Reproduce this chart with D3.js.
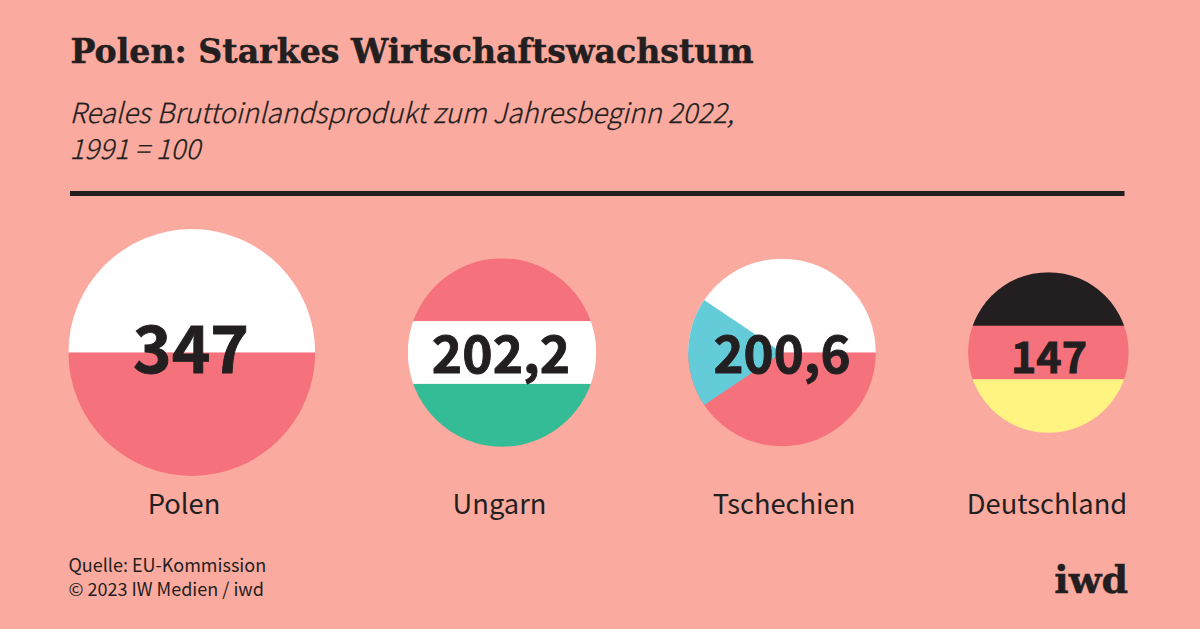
<!DOCTYPE html>
<html>
<head>
<meta charset="utf-8">
<script src="https://cdn.jsdelivr.net/npm/d3@7"></script>
<style>
  html, body { margin: 0; padding: 0; background: #fbaa9f; }
  svg { display: block; }
  text { fill: #231f20; }
  .sans { font-family: "Noto Sans CJK SC", "Noto Sans", sans-serif; }
  .slab { font-family: "DejaVu Serif", serif; font-weight: 700; stroke: #231f20; stroke-width: 0.5px; }
  .zahl { stroke: #231f20; stroke-width: 0.9px; }
  .untertitel { stroke: #231f20; stroke-width: 0.25px; }
</style>
</head>
<body>
<div id="chart"></div>
<script>
// data
var laender = ["Polen", "Ungarn", "Tschechien", "Deutschland"];
var werte = [347, 202.2, 200.6, 147];
var wertLabels = ["347", "202,2", "200,6", "147"];
var streifen = [
  ["weiss", "rot"],
  ["rot", "weiss", "gruen"],
  ["weiss", "rot"],
  ["schwarz", "rot", "gelb"]
];
var keil = [null, null, "blau", null];
var keilWinkel = 68; // degrees, wedge of the czech flag
var titel = "Polen: Starkes Wirtschaftswachstum";
var untertitel = ["Reales Bruttoinlandsprodukt zum Jahresbeginn 2022,", "1991 = 100"];
var quelle = ["Quelle: EU-Kommission", "© 2023 IW Medien / iwd"];

var width = 1200, height = 629;
var cy = 352.5;
var centerX = [191.8, 502, 782, 1048.4];
var numberX = [191, 501, 782, 1049];
var labelX = [184, 499.5, 784, 1047];
var numberSize = [65.5, 51.5, 51, 43];
var numberBase = 372.6;

var farbe = d3.scaleOrdinal()
  .domain(["weiss", "rot", "gruen", "schwarz", "gelb", "blau"])
  .range(["#ffffff", "#f5717c", "#34bc96", "#231f20", "#fff482", "#64cbd9"]);

// area proportional to the value
var radius = d3.scaleSqrt().domain([0, 347]).range([0, 123.4]);

var svg = d3.select("#chart").append("svg")
  .attr("width", width)
  .attr("height", height);

svg.append("rect")
  .attr("width", width)
  .attr("height", height)
  .attr("fill", "#fbaa9f");

svg.append("text")
  .attr("class", "slab")
  .attr("x", 70.5)
  .attr("y", 62.7)
  .attr("font-size", 33.2)
  .text(titel);

svg.append("text")
  .attr("class", "untertitel sans")
  .attr("font-size", 27.7)
  .attr("font-style", "italic")
  .attr("font-weight", 300)
  .selectAll("tspan")
  .data(untertitel)
  .enter().append("tspan")
  .attr("x", 69.5)
  .attr("y", function(d, i) { return 123.3 + i * 36; })
  .text(function(d) { return d; });

svg.append("rect")
  .attr("x", 70)
  .attr("y", 191)
  .attr("width", 1054.5)
  .attr("height", 5)
  .attr("fill", "#231f20");

var defs = svg.append("defs");

var land = svg.selectAll(".land")
  .data(laender)
  .enter().append("g")
  .attr("class", "land");

land.each(function(name, i) {
  var g = d3.select(this);
  var r = radius(werte[i]);
  var cx = centerX[i];

  defs.append("clipPath")
    .attr("id", "clip" + i)
    .append("circle")
    .attr("cx", cx)
    .attr("cy", cy)
    .attr("r", r);

  var y = d3.scaleBand()
    .domain(streifen[i])
    .range([cy - r, cy + r]);

  var flagge = g.append("g").attr("clip-path", "url(#clip" + i + ")");

  flagge.selectAll("rect")
    .data(streifen[i])
    .enter().append("rect")
    .attr("x", cx - r)
    .attr("y", function(d) { return y(d); })
    .attr("width", 2 * r)
    .attr("height", y.bandwidth() + 0.3)
    .attr("fill", function(d) { return farbe(d); });

  if (keil[i]) {
    var a = keilWinkel * Math.PI / 180;
    flagge.append("path")
      .attr("transform", "translate(" + cx + "," + cy + ")")
      .attr("d", d3.arc()({
        innerRadius: 0,
        outerRadius: r + 1,
        startAngle: -Math.PI / 2 - a / 2,
        endAngle: -Math.PI / 2 + a / 2
      }))
      .attr("fill", farbe(keil[i]));
  }

  g.append("text")
    .attr("class", "sans zahl")
    .attr("x", numberX[i])
    .attr("y", numberBase)
    .attr("text-anchor", "middle")
    .attr("font-size", numberSize[i])
    .attr("font-weight", 700)
    .text(wertLabels[i]);

  g.append("text")
    .attr("class", "sans")
    .attr("x", labelX[i])
    .attr("y", 514)
    .attr("text-anchor", "middle")
    .attr("font-size", 27.3)
    .text(name);
});

svg.selectAll(".quelle")
  .data(quelle)
  .enter().append("text")
  .attr("class", "quelle sans")
  .attr("x", 68.5)
  .attr("y", function(d, i) { return 571.5 + i * 24.7; })
  .attr("font-size", 18)
  .text(function(d) { return d; });

svg.append("text")
  .attr("class", "slab")
  .attr("x", 1128)
  .attr("y", 592.5)
  .attr("text-anchor", "end")
  .attr("font-size", 38)
  .text("iwd");
</script>
</body>
</html>
